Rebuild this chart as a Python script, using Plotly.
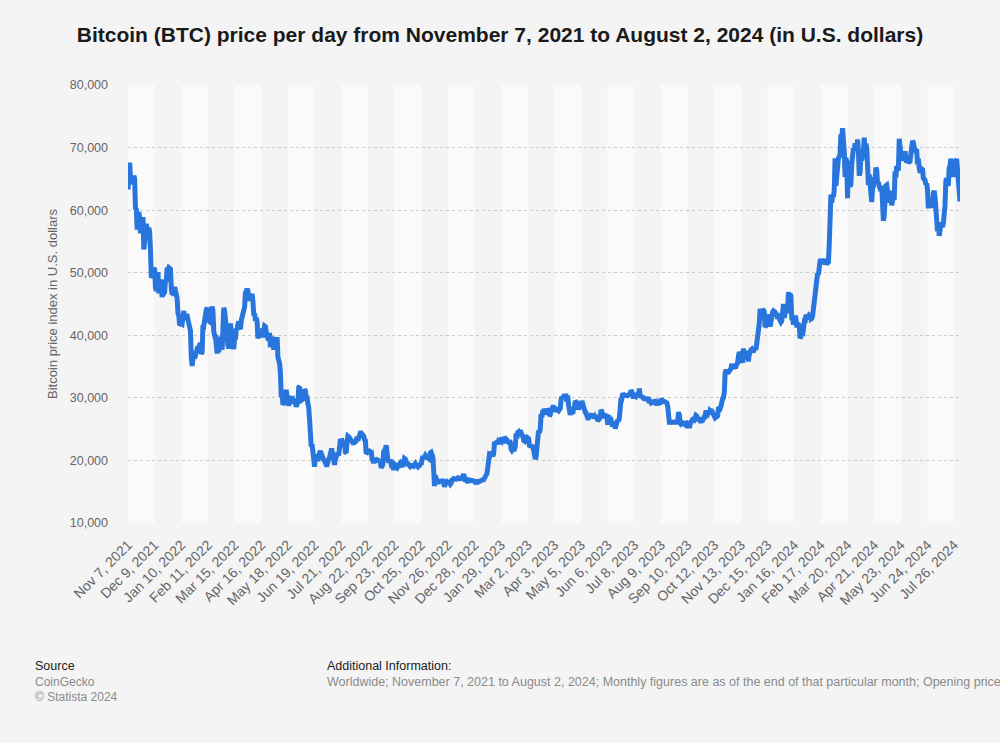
import pandas as pd
import plotly.graph_objects as go

# ---------------- data (daily price in U.S. dollars) ----------------
nov21 = [63300, 67500, 67600, 64900, 64900, 64200, 64400, 65500, 65000, 60100, 60300, 56900,
         58100, 59700, 58700, 56300, 57500, 57100, 58900, 53700, 54800, 57200, 57800, 56900]
dec21 = [56900, 57200, 56500, 53600, 49200, 49400, 50600, 50500, 50500, 47600, 47100, 49300,
         50100, 46700, 48300, 48900, 47600, 46100, 46800, 46700, 46900, 48900, 48600, 50800,
         50400, 50800, 50700, 50600, 47500, 46500, 47100]
jan22 = [46300, 47700, 47300, 46400, 45900, 43500, 43100, 41600, 41800, 41900, 41800, 42700,
         43900, 42600, 43100, 43100, 43100, 42200, 42400, 41700, 40700, 36500, 35100, 36300,
         36700, 36900, 36800, 37100, 37800, 38200, 37900]
feb22 = [38500, 38700, 37000, 37300, 41600, 41500, 42400, 43800, 44100, 44400, 43600, 42400,
         42200, 42100, 42600, 44600, 43900, 40600, 40000, 40100, 38400, 37100, 38300, 37300,
         38400, 39200, 39100, 37700]
mar22 = [43200, 44400, 43900, 42500, 39100, 39400, 38400, 37900, 38700, 41900, 39400, 38800,
         38800, 37800, 39700, 39300, 41100, 40900, 41800, 42200, 41200, 41000, 42400, 42900,
         44000, 44300, 44500, 46800, 47100, 47400, 47100]
apr22 = [45500, 46300, 45900, 46400, 46600, 45500, 43200, 43500, 42300, 42800, 42200, 39500,
         40100, 41100, 39900, 40500, 40400, 39700, 40800, 41500, 41400, 40500, 39700, 39500,
         39500, 40400, 38100, 39200, 39800, 38600]
may22 = [37700, 38500, 38500, 37700, 39700, 36500, 36000, 35500, 34000, 30100, 31000, 28900,
         29000, 29300, 30100, 31300, 29900, 30400, 28700, 30300, 29200, 29400, 30300, 29100,
         29700, 29500, 29200, 28600, 29000, 29400, 31700]
jun22 = [31800, 29800, 30500, 29700, 29900, 29900, 31400, 31100, 30200, 30100, 29100, 28400,
         26600, 22500, 22200, 22600, 20400, 20500, 19000, 20600, 20600, 20700, 19900, 21100,
         21200, 21500, 21000, 20700, 20300, 20100]
jul22 = [19900, 19300, 19300, 19300, 20200, 20200, 20500, 21600, 21600, 21600, 20800, 19900,
         19300, 20200, 20600, 20800, 21200, 20800, 22400, 23400, 23200, 23200, 22700, 22500,
         22600, 21300, 21200, 22900, 23900, 23800, 23600]
aug22 = [23300, 23300, 22800, 22800, 22600, 23300, 23000, 23100, 23800, 23200, 23900, 24000,
         24400, 24400, 24300, 24100, 23900, 23300, 23200, 21100, 21200, 21500, 21400, 21500,
         21400, 21600, 20300, 20000, 19600, 20300, 20100]
sep22 = [20000, 20100, 20000, 19800, 19900, 19800, 18800, 19300, 19300, 21400, 21600, 21800,
         22400, 20200, 20200, 19700, 19800, 20100, 19400, 19500, 18900, 18500, 19400, 19300,
         18900, 18800, 19100, 19100, 19400, 19600]
oct22 = [19400, 19300, 19000, 19600, 20300, 20200, 19900, 19500, 19400, 19400, 19100, 19000,
         19100, 19400, 19200, 19100, 19300, 19500, 19300, 19100, 19000, 19200, 19200, 19500,
         19300, 20100, 20700, 20300, 20600, 20800, 20600]
nov22 = [20500, 20500, 20200, 20200, 21200, 21300, 20900, 20600, 18500, 15900, 17600, 17000,
         16800, 16300, 16600, 16900, 16700, 16700, 16700, 16700, 16300, 15800, 16200, 16600,
         16600, 16500, 16500, 16400, 16200, 16400]
dec22 = [17100, 16900, 17100, 17000, 17100, 17000, 17100, 16800, 17200, 17100, 17100, 17100,
         17200, 17800, 17800, 17400, 16600, 16800, 16800, 16400, 16900, 16800, 16800, 16800,
         16800, 16800, 16900, 16700, 16500, 16600, 16600]
jan23 = [16500, 16600, 16700, 16700, 16900, 16800, 16900, 16900, 17100, 17200, 17400, 17900,
         18900, 19900, 20900, 20800, 21100, 21100, 20700, 21000, 22700, 22800, 22700, 22900,
         22600, 23100, 23000, 23100, 23000, 23700, 22800]
feb23 = [23100, 23700, 23400, 23400, 23300, 22900, 22700, 23200, 22900, 21800, 21600, 21800,
         21800, 21800, 22200, 24300, 23500, 24500, 24600, 24300, 24800, 24400, 24200, 23900,
         23200, 23100, 23600, 23500]
mar23 = [23100, 23600, 23500, 22400, 22400, 22400, 22400, 22200, 21700, 20400, 20200, 20600,
         22100, 24200, 24800, 24400, 25000, 27400, 26900, 28000, 27800, 28200, 27300, 28300,
         27500, 27500, 28000, 27100, 27300, 28400, 28000]
apr23 = [28500, 28500, 28200, 27800, 28200, 28200, 28000, 27900, 28000, 28300, 29700, 30200,
         29900, 30400, 30500, 30300, 30300, 29400, 30400, 28800, 28300, 27300, 27800, 27600,
         27500, 28300, 28400, 29500, 29300, 29200]
may23 = [29300, 28100, 28700, 29000, 28900, 29500, 28900, 28500, 27700, 27700, 27600, 26800,
         26800, 26800, 27000, 27200, 27100, 27400, 26800, 26900, 27100, 26800, 26900, 27200,
         26300, 26500, 26700, 26900, 28100, 27700, 27700]
jun23 = [27200, 26800, 27200, 27100, 27100, 25700, 27200, 26400, 26500, 26500, 25800, 25900,
         25900, 25900, 25100, 25600, 26300, 26500, 26300, 26800, 28300, 30000, 29900, 30700,
         30500, 30500, 30200, 30700, 30100, 30400]
jul23 = [30500, 30600, 30600, 31200, 31000, 30400, 29900, 30400, 30300, 30200, 30400, 30600,
         30400, 31500, 30300, 30300, 30200, 30100, 29900, 29900, 29800, 29900, 29800, 30100,
         29200, 29200, 29400, 29200, 29300, 29300, 29200]
aug23 = [29200, 29700, 29200, 29200, 29100, 29100, 29100, 29200, 29800, 29600, 29400, 29400,
         29400, 29300, 29400, 29200, 28700, 26600, 26100, 26100, 26200, 26100, 25900, 26400,
         26100, 26100, 26000, 26100, 26100, 27700, 27300]
sep23 = [26000, 25800, 25900, 26000, 25800, 25800, 25700, 26200, 25900, 25900, 25800, 25200,
         25800, 26200, 26500, 26600, 26600, 26500, 26800, 27200, 27100, 26600, 26600, 26600,
         26300, 26200, 26300, 26400, 27000, 27000]
oct23 = [27000, 28000, 27500, 27400, 27800, 27400, 28000, 27900, 27900, 27600, 27400, 26900,
         26800, 26900, 26900, 27100, 28500, 28400, 28300, 28700, 29700, 29900, 30000, 30900,
         33900, 34500, 34200, 33900, 34100, 34500, 34600]
nov23 = [34700, 35400, 34900, 34700, 35000, 35000, 35000, 35400, 35600, 36700, 37300, 37100,
         37100, 36500, 35600, 37900, 36200, 36600, 36600, 37400, 37500, 35800, 37400, 37300,
         37700, 37800, 37500, 37300, 37800, 37900]
dec23 = [37700, 38700, 39400, 39900, 41900, 44200, 43800, 43300, 44200, 44000, 43800, 41300,
         41500, 43000, 43000, 41900, 42300, 41400, 42700, 42300, 43700, 43900, 43900, 43700,
         43000, 43600, 42600, 43400, 42600, 42100, 42100]
jan24 = [42300, 44200, 45000, 42800, 44200, 44200, 43900, 43900, 46900, 46200, 46600, 46300,
         42800, 42800, 41700, 42500, 43100, 42700, 41300, 41600, 41700, 41600, 39500, 39900,
         40100, 39900, 41800, 42100, 42000, 43300, 42900]
feb24 = [42600, 43100, 43200, 43100, 42600, 42700, 43100, 44300, 45300, 47100, 47800, 48300,
         49900, 49700, 51800, 51900, 52100, 51700, 52100, 51800, 52200, 51300, 51800, 51300,
         51600, 51700, 54500, 57100, 62500]
mar24 = [61200, 62400, 62100, 63200, 68300, 63900, 66100, 66800, 68300, 68500, 69000, 72100,
         71500, 73100, 71400, 69400, 65300, 68400, 67600, 61900, 67900, 65500, 63800, 64100,
         67300, 69900, 69900, 69500, 70700, 69900, 69600]
apr24 = [71300, 69700, 65500, 66000, 68500, 67900, 68900, 69400, 71600, 69100, 70600, 70000,
         67100, 64000, 65700, 63400, 63800, 61300, 63500, 63800, 64900, 64900, 66800, 66400,
         64300, 64500, 63800, 63400, 63100, 63900]
may24 = [60600, 58300, 59100, 62900, 63900, 64000, 63100, 62300, 61200, 63100, 60800, 60800,
         61400, 62900, 61600, 66200, 65200, 67000, 66900, 66300, 71400, 70100, 69100, 67900,
         68500, 69300, 68500, 69400, 68300, 67600, 68300]
jun24 = [67500, 67700, 67800, 68800, 70500, 71100, 70800, 69300, 69300, 69600, 69500, 67300,
         68200, 66800, 66000, 66200, 66600, 66500, 65100, 64900, 64800, 64100, 64300, 63200,
         60300, 61800, 60900, 61600, 60400, 60900]
jul24 = [62700, 63100, 62100, 60200, 57100, 56600, 58100, 55900, 56700, 57900, 57700, 57300,
         57900, 59200, 60800, 64700, 65100, 64100, 63900, 66700, 67100, 68200, 67600, 65900,
         65400, 65800, 67900, 67800, 68200, 66800, 66200]
aug24 = [64600, 61400]

month_blocks = [
    ("2021-11-07", nov21), ("2021-12-01", dec21),
    ("2022-01-01", jan22), ("2022-02-01", feb22), ("2022-03-01", mar22), ("2022-04-01", apr22),
    ("2022-05-01", may22), ("2022-06-01", jun22), ("2022-07-01", jul22), ("2022-08-01", aug22),
    ("2022-09-01", sep22), ("2022-10-01", oct22), ("2022-11-01", nov22), ("2022-12-01", dec22),
    ("2023-01-01", jan23), ("2023-02-01", feb23), ("2023-03-01", mar23), ("2023-04-01", apr23),
    ("2023-05-01", may23), ("2023-06-01", jun23), ("2023-07-01", jul23), ("2023-08-01", aug23),
    ("2023-09-01", sep23), ("2023-10-01", oct23), ("2023-11-01", nov23), ("2023-12-01", dec23),
    ("2024-01-01", jan24), ("2024-02-01", feb24), ("2024-03-01", mar24), ("2024-04-01", apr24),
    ("2024-05-01", may24), ("2024-06-01", jun24), ("2024-07-01", jul24), ("2024-08-01", aug24),
]

tick_dates = ["2021-11-07", "2021-12-09", "2022-01-10", "2022-02-11", "2022-03-15", "2022-04-16",
              "2022-05-18", "2022-06-19", "2022-07-21", "2022-08-22", "2022-09-23", "2022-10-25",
              "2022-11-26", "2022-12-28", "2023-01-29", "2023-03-02", "2023-04-03", "2023-05-05",
              "2023-06-06", "2023-07-08", "2023-08-09", "2023-09-10", "2023-10-12", "2023-11-13",
              "2023-12-15", "2024-01-16", "2024-02-17", "2024-03-20", "2024-04-21", "2024-05-23",
              "2024-06-24", "2024-07-26"]
tick_labels = ["Nov 7, 2021", "Dec 9, 2021", "Jan 10, 2022", "Feb 11, 2022", "Mar 15, 2022",
               "Apr 16, 2022", "May 18, 2022", "Jun 19, 2022", "Jul 21, 2022", "Aug 22, 2022",
               "Sep 23, 2022", "Oct 25, 2022", "Nov 26, 2022", "Dec 28, 2022", "Jan 29, 2023",
               "Mar 2, 2023", "Apr 3, 2023", "May 5, 2023", "Jun 6, 2023", "Jul 8, 2023",
               "Aug 9, 2023", "Sep 10, 2023", "Oct 12, 2023", "Nov 13, 2023", "Dec 15, 2023",
               "Jan 16, 2024", "Feb 17, 2024", "Mar 20, 2024", "Apr 21, 2024", "May 23, 2024",
               "Jun 24, 2024", "Jul 26, 2024"]
y_ticks = [10000, 20000, 30000, 40000, 50000, 60000, 70000, 80000]
x_start, x_end = "2021-11-07", "2024-08-02"

# ---------------- build ----------------
dates, prices = [], []
for start, vals in month_blocks:
    dates.extend(pd.date_range(start, periods=len(vals), freq="D"))
    prices.extend(vals)

FONT = "Arial, 'Liberation Sans', Helvetica, sans-serif"
BG = "#f4f4f4"
BAND = "#fafafa"

fig = go.Figure()
fig.add_trace(go.Scatter(
    x=dates, y=prices, mode="lines",
    line=dict(color="#2876dd", width=5),
    hoverinfo="x+y", showlegend=False,
))

# alternating vertical bands
edges = tick_dates + [x_end]
shapes = []
for i in range(len(tick_dates)):
    if i % 2 == 0:
        shapes.append(dict(type="rect", xref="x", yref="paper",
                           x0=edges[i], x1=edges[i + 1], y0=0, y1=1,
                           fillcolor=BAND, line=dict(width=0), layer="below"))

L, R, T, B = 128, 40, 85, 220
W, H = 1000, 743
pw, ph = W - L - R, H - T - B

def px_x(px):
    return (px - L) / pw

def px_y(py):
    return (H - B - py) / ph

annotations = [
    dict(text="Bitcoin price index in U.S. dollars", x=px_x(52), y=0.5, xref="paper", yref="paper",
         textangle=-90, showarrow=False, xanchor="center", yanchor="middle",
         font=dict(family=FONT, size=13, color="#666666")),
    dict(text="Source", x=px_x(33), y=px_y(666), xref="paper", yref="paper", showarrow=False,
         xanchor="left", yanchor="middle", font=dict(family=FONT, size=12.5, color="#222222")),
    dict(text="CoinGecko", x=px_x(33), y=px_y(682), xref="paper", yref="paper", showarrow=False,
         xanchor="left", yanchor="middle", font=dict(family=FONT, size=12, color="#8a8a8a")),
    dict(text="© Statista 2024", x=px_x(33), y=px_y(697), xref="paper", yref="paper", showarrow=False,
         xanchor="left", yanchor="middle", font=dict(family=FONT, size=12, color="#8a8a8a")),
    dict(text="Additional Information:", x=px_x(325), y=px_y(666), xref="paper", yref="paper",
         showarrow=False, xanchor="left", yanchor="middle",
         font=dict(family=FONT, size=12.5, color="#222222")),
    dict(text="Worldwide; November 7, 2021 to August 2, 2024; Monthly figures are as of the end of that "
              "particular month; Opening price",
         x=px_x(325), y=px_y(682), xref="paper", yref="paper", showarrow=False,
         xanchor="left", yanchor="middle", font=dict(family=FONT, size=12.5, color="#8a8a8a")),
]

fig.update_layout(
    width=W, height=H,
    margin=dict(l=L, r=R, t=T, b=B, pad=0),
    paper_bgcolor=BG, plot_bgcolor=BG,
    title=dict(text="<b>Bitcoin (BTC) price per day from November 7, 2021 to August 2, 2024 (in U.S. dollars)</b>",
               x=0.5, xref="container", xanchor="center",
               y=1 - 35 / H, yref="container", yanchor="middle",
               font=dict(family=FONT, size=21, color="#1a1a1a")),
    shapes=shapes,
    annotations=annotations,
    showlegend=False,
    xaxis=dict(
        type="date", range=[x_start, x_end],
        tickvals=tick_dates, ticktext=tick_labels, tickangle=-45,
        tickfont=dict(family=FONT, size=14, color="#666666"),
        showgrid=False, zeroline=False, showline=False, ticks="",
        ticklabelstandoff=10, fixedrange=True,
    ),
    yaxis=dict(
        range=[10000, 80000], tickvals=y_ticks, tickformat=",",
        tickfont=dict(family=FONT, size=12.5, color="#666666"),
        showgrid=True, gridcolor="#c9c9c9", gridwidth=1, griddash="dot",
        zeroline=False, showline=False, ticks="", ticklabelstandoff=19,
        fixedrange=True,
    ),
)

fig.write_html(
    "out.html",
    config={"displayModeBar": False},
    post_script="document.body.style.margin='0';document.body.style.padding='0';"
                "document.body.style.background='#f4f4f4';window.dispatchEvent(new Event('resize'));",
)
